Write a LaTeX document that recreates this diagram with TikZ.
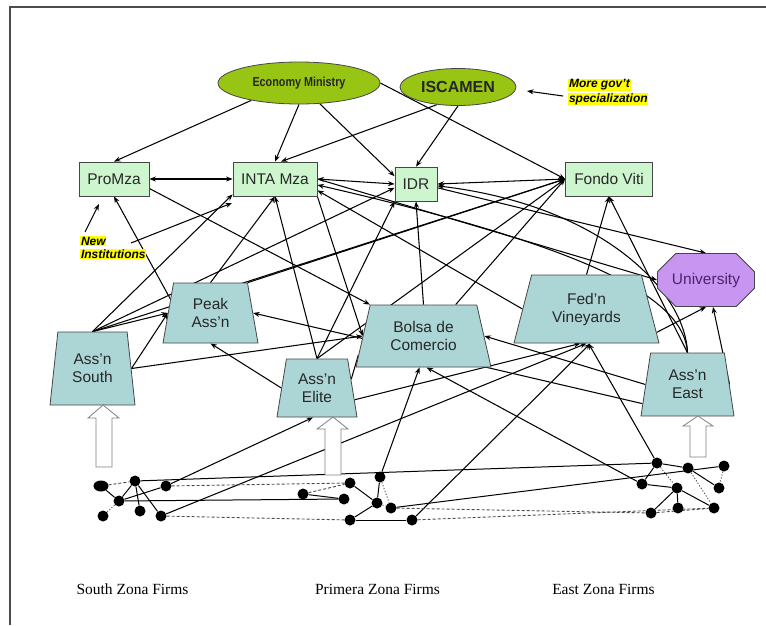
\documentclass[tikz,border=0pt]{standalone}
\usepackage{fontspec}
\setmainfont{Liberation Serif}
\setsansfont{Liberation Sans}
\newfontfamily\condfont[FakeStretch=0.83]{Liberation Sans}
\usetikzlibrary{shapes.geometric,shapes.misc,arrows.meta,calc}
\pgfdeclarelayer{background}
\pgfsetlayers{background,main}
\definecolor{boxfill}{RGB}{206,246,206}
\definecolor{trapfill}{RGB}{172,213,213}
\definecolor{ellfill}{RGB}{152,196,20}
\definecolor{unifill}{RGB}{200,150,240}
\definecolor{edgegray}{RGB}{70,70,70}
\definecolor{txtgray}{RGB}{40,40,40}
\definecolor{unitxt}{RGB}{75,35,110}
\definecolor{hl}{RGB}{255,255,0}
\begin{document}
\begin{tikzpicture}[x=1pt,y=-1pt,
  box/.style={draw=edgegray, line width=0.8pt, fill=boxfill, minimum height=34pt, inner sep=0pt, font=\sffamily\fontsize{15.5}{17}\selectfont, text=txtgray},
  trap/.style={trapezium, trapezium stretches body, draw=edgegray, line width=0.8pt, fill=trapfill, inner sep=0pt, align=center, font=\sffamily\fontsize{15.5}{18}\selectfont, text=txtgray},
  gov/.style={ellipse, draw=edgegray, line width=0.8pt, fill=ellfill, inner sep=0pt, text=black!85},
  hlab/.style={fill=hl, inner sep=0.8pt, anchor=west, font=\sffamily\bfseries\itshape\fontsize{12}{13}\selectfont},
  firm/.style={circle, fill=black, inner sep=0pt, minimum size=11pt},
  zone/.style={font=\rmfamily\fontsize{15.5}{17}\selectfont},
  link/.style={line width=1.05pt, black},
  arr/.style={link, -{Stealth[length=6.5pt,width=5pt]}},
  arrtwo/.style={link, {Stealth[length=6.5pt,width=5pt]}-{Stealth[length=6.5pt,width=5pt]}},
  tie/.style={line width=1pt, black},
  dashtie/.style={line width=0.9pt, black!70, dash pattern=on 3pt off 2pt},
  dottie/.style={line width=0.9pt, black!70, dash pattern=on 1.2pt off 1.8pt},
  hollow/.style={draw=gray, line width=0.8pt, fill=white},
]
\useasboundingbox (0,0) rectangle (766,625);
% frame
\draw[line width=1.3pt, black!70] (10,625) -- (10,7) -- (766,7);

% government
\node[gov, minimum width=162pt, minimum height=42pt, font=\condfont\bfseries\fontsize{13}{15}\selectfont] (EM) at (299,83) {Economy Ministry};
\node[gov, minimum width=116pt, minimum height=37pt, font=\sffamily\bfseries\fontsize{16}{18}\selectfont] (ISC) at (458,87) {ISCAMEN};
\node[hlab] (gov1) at (568,85) {More gov't};
\node[hlab] (gov2) at (568,99) {specialization};

% institutions
\node[box, minimum width=70pt] (PM) at (114,179) {ProMza};
\node[box, minimum width=84pt] (INTA) at (275,179) {INTA Mza};
\node[box, minimum width=42pt] (IDR) at (416,184) {IDR};
\node[box, minimum width=87pt] (FV) at (609,179) {Fondo Viti};
\node[hlab] (new1) at (80,241) {New};
\node[hlab] (new2) at (80,254) {Institutions};

\node[chamfered rectangle, chamfered rectangle xsep=12pt, chamfered rectangle ysep=11pt, draw=edgegray, line width=0.8pt, fill=unifill, minimum width=97pt, minimum height=53pt, inner sep=0pt, font=\sffamily\fontsize{15.5}{17}\selectfont, text=unitxt] (Univ) at (706,280) {University};

% associations
\node[trap, trapezium left angle=70.3, trapezium right angle=70.3, minimum width=95pt, minimum height=60pt] (Peak) at (210.5,313) {Peak\\Ass'n};
\node[trap, trapezium left angle=74.7, trapezium right angle=74.7, minimum width=85pt, minimum height=73pt] (South) at (92.5,368.5) {Ass'n\\South};
\node[trap, trapezium left angle=71.9, trapezium right angle=71.9, minimum width=80pt, minimum height=58pt] (Elite) at (317,388) {Ass'n\\Elite};
\node[trap, trapezium left angle=64.2, trapezium right angle=64.2, minimum width=135pt, minimum height=62pt] (Bolsa) at (423.5,336) {Bolsa de\\Comercio};
\node[trap, trapezium left angle=61.5, trapezium right angle=61.5, minimum width=145pt, minimum height=68pt] (Fed) at (586.5,309) {Fed'n\\Vineyards};
\node[trap, trapezium left angle=71.6, trapezium right angle=71.6, minimum width=93pt, minimum height=63pt] (East) at (687.5,384.5) {Ass'n\\East};

% firms
\node[firm, ellipse, minimum width=15pt, minimum height=11pt] (a1) at (101,486) {};
\node[firm] (a2) at (135,481) {};
\node[firm] (a3) at (166,486) {};
\node[firm] (a4) at (119,501) {};
\node[firm] (a5) at (140,511) {};
\node[firm] (a6) at (103,516) {};
\node[firm] (a7) at (161,516) {};
\node[firm] (b1) at (350,483) {};
\node[firm] (b2) at (380,477) {};
\node[firm] (b3) at (303,494) {};
\node[firm] (b4) at (344,499) {};
\node[firm] (b5) at (377,503) {};
\node[firm] (b6) at (391,508) {};
\node[firm] (b7) at (350,520) {};
\node[firm] (b8) at (412,520) {};
\node[firm] (c1) at (657,463) {};
\node[firm] (c2) at (688,468) {};
\node[firm] (c3) at (724,466) {};
\node[firm] (c4) at (642,484) {};
\node[firm] (c5) at (677,488) {};
\node[firm] (c6) at (719,488) {};
\node[firm] (c7) at (651,513) {};
\node[firm] (c8) at (678,508) {};
\node[firm] (c9) at (714,508) {};

% zone labels
\node[zone] (zs) at (132.5,589) {South Zona Firms};
\node[zone] (zp) at (377.5,589) {Primera Zona Firms};
\node[zone] (ze) at (603.5,589) {East Zona Firms};

% hollow arrows
\draw[hollow] (96,467) -- (96,418) -- (88,418) -- (103,405) -- (119,418) -- (112,418) -- (112,467) -- cycle;
\draw[hollow] (325,475) -- (325,429) -- (317,429) -- (333,417) -- (348,429) -- (341,429) -- (341,475) -- cycle;
\draw[hollow] (690,457) -- (690,426) -- (683,426) -- (698,416) -- (713,426) -- (706,426) -- (706,457) -- cycle;

% helper points
\coordinate (govtail) at (563,96);
\coordinate (govtip) at (527,91);
\coordinate (newtailA) at (85,232);
\coordinate (newtipA) at (99,204);
\coordinate (newtailB) at (131,243);
\coordinate (newtipB) at (232,203);
\coordinate (peakin) at (183,322);
\coordinate (eastlow) at ($(East.bottom left corner)!0.2!(East.top left corner)$);
\coordinate (eliteR) at ($(Elite.bottom right corner)!0.3!(Elite.top right corner)$);
\coordinate (eliteR2) at ($(Elite.bottom right corner)!0.65!(Elite.top right corner)$);
\coordinate (bolsaL) at ($(Bolsa.bottom left corner)!0.2!(Bolsa.top left corner)$);
\coordinate (bolsaT) at ($(Bolsa.north)!0.6!(Bolsa.top right corner)$);
\coordinate (fedR) at ($(Fed.top right corner)!0.84!(Fed.bottom right corner)$);

\begin{pgfonlayer}{background}
\draw[arr] (EM.200) -- (PM.north);
\draw[arr] (EM.south) -- (INTA.north);
\draw[arr] (EM.-45) -- (IDR.160);
\draw[arr] (EM.east) -- (FV.west);
\draw[arr] (ISC.220) -- ($(INTA.north)+(6,0)$);
\draw[arr] (ISC.south) -- (IDR.north);
\draw[arr] (govtail) -- (govtip);
\draw[arr] (newtailA) -- (newtipA);
\draw[arr] (newtailB) -- (newtipB);
\draw[arrtwo] (PM.east) -- (INTA.west);
\draw[arrtwo] (INTA.east) -- (IDR.west);
\draw[arrtwo] (IDR.east) -- (FV.west);
\draw[arr] (INTA.east) -- (Univ.west);
\draw[arr] (IDR.-10) -- (Univ.north);
\draw[arr] (Fed.left side) -- (INTA.-15);
\draw[arr] (INTA.south east) -- (Bolsa.left side);
\draw[arr] (PM.-15) -- (Bolsa.top left corner);
\draw[arr] (peakin) -- (PM.south);
\draw[arr] (Peak.north) -- (INTA.south);
\draw[arr] (Peak.top right corner) -- (FV.west);
\draw[arr] (eastlow) -- (Peak.right side);
\draw[arr] (South.north) -- (INTA.200);
\draw[arr] (South.north) -- (IDR.190);
\draw[arr] (South.north) -- (FV.west);
\draw[arr] (South.north) -- (Peak.left side);
\draw[arr] (South.right side) -- (Peak.left side);
\draw[arr] (South.right side) -- (Bolsa.left side);
\draw[arr] (Elite.north) -- (INTA.south);
\draw[arr] (Elite.north) -- (IDR.south west);
\draw[arr] (Elite.north) -- (FV.west);
\draw[arr] (Elite.left side) -- (Peak.south);
\draw[arr] (eliteR) -- ($(Fed.south)+(-6,0)$);
\draw[link] (eliteR2) -- (bolsaL);
\draw[arr] (Bolsa.north) -- (IDR.south);
\draw[arr] (bolsaT) -- (FV.west);
\draw[arr] (East.left side) -- (Bolsa.right side);
\draw[arr] (Fed.north) -- (FV.south);
\draw[arr] (fedR) -- (Univ.south);
\draw[arr] (East.right side) -- ($(Univ.south)+(7,0)$);
\draw[arr] (East.north) -- (FV.south);
\draw[arr] (East.north) .. controls (685,290) and (600,205) .. (IDR.-5);
\draw[arr] (East.north) .. controls (684,300) and (600,250) .. (INTA.-8);
% firms to associations
\draw[arr] (a3) -- ($(Elite.south)+(-4,0)$);
\draw[arr] (a7) -- (Fed.south);
\draw[arr] (b8) -- ($(Fed.south)+(4,0)$);
\draw[arr] (c1) -- ($(Fed.south)+(2,0)$);
\draw[arr] (b2) -- ($(Bolsa.south)+(-4,0)$);
\draw[arr] (c4) -- ($(Bolsa.south)+(3,0)$);
% firm ties
\draw[tie] (a1) -- (a4);
\draw[tie] (a4) -- (a2);
\draw[tie] (a2) -- (a5);
\draw[tie] (a2) -- (a7);
\draw[tie] (a4) -- (a3);
\draw[tie] (a2) -- (c1);
\draw[tie] (a4) -- (b4);
\draw[tie] (b3) -- (b4);
\draw[tie] (b1) -- (b5);
\draw[tie] (b2) -- (b5);
\draw[tie] (b5) -- (b7);
\draw[tie] (b7) -- (b8);
\draw[tie] (b6) -- (c3);
\draw[tie] (c1) -- (c4);
\draw[tie] (c1) -- (c2);
\draw[tie] (c2) -- (c6);
\draw[tie] (c4) -- (c5);
\draw[tie] (c5) -- (c7);
\draw[tie] (c5) -- (c8);
\draw[tie] (c5) -- (c9);
\draw[dashtie] (a1) -- (a2);
\draw[dashtie] (a3) -- (b1);
\draw[dashtie] (a7) -- (b7);
\draw[dashtie] (b3) -- (b1);
\draw[dashtie] (b6) -- (c7);
\draw[dashtie] (b8) -- (c9);
\draw[dashtie] (c7) -- (c9);
\draw[dottie] (a6) -- (a4);
\draw[dottie] (b2) -- (b6);
\draw[dottie] (b5) -- (b6);
\draw[dottie] (c1) -- (c5);
\draw[dottie] (c2) -- (c9);
\draw[dottie] (c3) -- (c6);
\end{pgfonlayer}
\end{tikzpicture}
\end{document}
